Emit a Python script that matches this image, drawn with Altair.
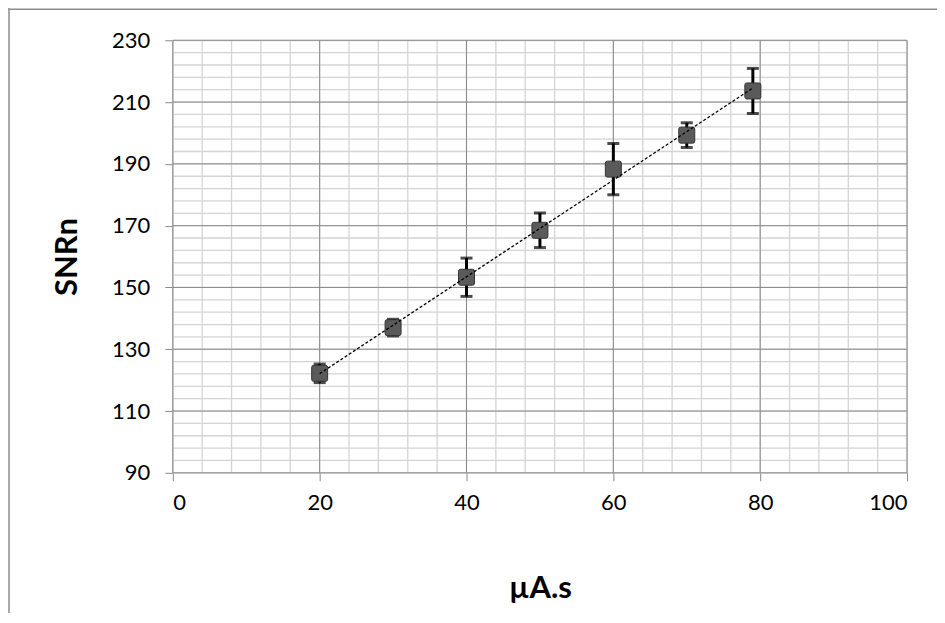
import altair as alt
import pandas as pd

# data
x_vals = [20, 30, 40, 50, 60, 70, 79]
snr = [122.2, 137.0, 153.3, 168.5, 188.3, 199.3, 213.6]
err = [3.0, 2.7, 6.2, 5.6, 8.3, 4.0, 7.3]

x_major = [0, 20, 40, 60, 80, 100]
y_major = [90, 110, 130, 150, 170, 190, 210, 230]
x_minor = list(range(0, 101, 4))
y_minor = list(range(90, 231, 4))

df = pd.DataFrame({"x": x_vals, "y": snr, "e": err})
df["lo"] = df["y"] - df["e"]
df["hi"] = df["y"] + df["e"]

FONT = "Lato"
xs = alt.Scale(domain=[0, 100], nice=False, zero=False)
ys = alt.Scale(domain=[90, 230], nice=False, zero=False)

xaxis = alt.Axis(values=x_major, grid=False, domain=False, tickSize=8, tickColor="#888888",
                 labelFontSize=22, labelFont=FONT, labelColor="#000000", labelPadding=12,
                 title="µA.s", titleFont=FONT, titleFontSize=31, titleFontWeight="bold",
                 titleColor="#000000", titlePadding=60)
yaxis = alt.Axis(values=y_major, grid=False, domain=False, tickSize=8, tickColor="#888888",
                 labelFontSize=22, labelFont=FONT, labelColor="#000000", labelPadding=15,
                 title="SNRn", titleFont=FONT, titleFontSize=31, titleFontWeight="bold",
                 titleColor="#000000", titlePadding=28)

minor_vx = alt.Chart(pd.DataFrame({"v": x_minor})).mark_rule(color="#d4d4d4", strokeWidth=1.3).encode(
    x=alt.X("v:Q", scale=xs, axis=xaxis))
minor_hy = alt.Chart(pd.DataFrame({"v": y_minor})).mark_rule(color="#d4d4d4", strokeWidth=1.3).encode(
    y=alt.Y("v:Q", scale=ys, axis=yaxis))
major_vx = alt.Chart(pd.DataFrame({"v": x_major})).mark_rule(color="#8a8a8a", strokeWidth=1).encode(
    x=alt.X("v:Q", scale=xs))
major_hy = alt.Chart(pd.DataFrame({"v": y_major})).mark_rule(color="#8a8a8a", strokeWidth=1).encode(
    y=alt.Y("v:Q", scale=ys))

base = alt.Chart(df)
bars = base.mark_rule(color="#000000", strokeWidth=3).encode(
    x=alt.X("x:Q", scale=xs), y=alt.Y("lo:Q", scale=ys), y2="hi:Q")
cap_lo = base.mark_tick(color="#000000", orient="horizontal", size=12, thickness=3).encode(
    x=alt.X("x:Q", scale=xs), y=alt.Y("lo:Q", scale=ys))
cap_hi = base.mark_tick(color="#000000", orient="horizontal", size=12, thickness=3).encode(
    x=alt.X("x:Q", scale=xs), y=alt.Y("hi:Q", scale=ys))

rounded_sq = "M -0.75 -1 L 0.75 -1 Q 1 -1 1 -0.75 L 1 0.75 Q 1 1 0.75 1 L -0.75 1 Q -1 1 -1 0.75 L -1 -0.75 Q -1 -1 -0.75 -1 Z"
points = base.mark_point(shape=rounded_sq, filled=True, fill="#5a5a5a", stroke="#333333",
                         strokeWidth=1, opacity=1, size=256).encode(
    x=alt.X("x:Q", scale=xs), y=alt.Y("y:Q", scale=ys))

trend = base.transform_regression("x", "y", method="linear").mark_line(
    color="#000000", strokeWidth=1.3, strokeDash=[3, 2]).encode(
    x=alt.X("x:Q", scale=xs), y=alt.Y("y:Q", scale=ys))

border_top = alt.Chart(pd.DataFrame({"a": [0]})).mark_rule(color="#8c8c8c", strokeWidth=1.5).encode(
    x=alt.value(-165), x2=alt.value(780), y=alt.value(-31))
border_left = alt.Chart(pd.DataFrame({"a": [0]})).mark_rule(color="#8c8c8c", strokeWidth=1.5).encode(
    x=alt.value(-164), y=alt.value(-32), y2=alt.value(620))

chart = alt.layer(
    minor_vx, minor_hy, major_vx, major_hy, bars, cap_lo, cap_hi, points, trend,
    border_top, border_left
).properties(
    width=735, height=433,
    padding={"left": 165, "top": 32, "right": 30, "bottom": 140},
    autosize=alt.AutoSizeParams(type="none"),
).configure_view(stroke=None).configure(background="#ffffff")

chart.save("out.html", embed_options={"renderer": "svg", "actions": False})
